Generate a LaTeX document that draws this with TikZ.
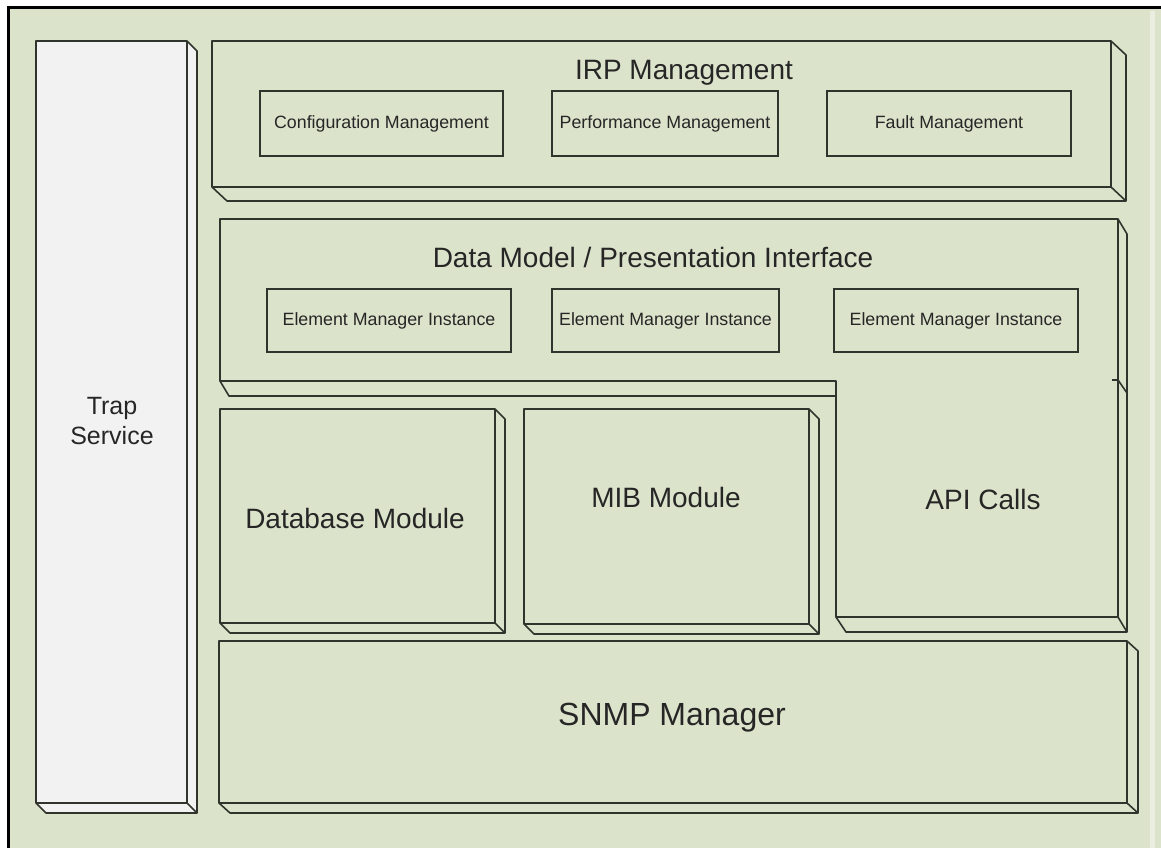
\documentclass[tikz,border=0pt]{standalone}
\usepackage{fontspec}
\setmainfont{Liberation Sans}
\definecolor{bg}{HTML}{DCE3CB}
\definecolor{trapfill}{HTML}{F2F2F2}
\definecolor{edgec}{HTML}{2F352C}
\definecolor{txt}{HTML}{262626}
\tikzset{
  edge/.style={draw=edgec, line width=1.6pt, line join=round},
  flatbox/.style={draw=edgec, line width=1.6pt, fill=bg},
  small/.style={text=txt, font=\fontsize{17.8}{20}\selectfont},
  title/.style={text=txt, font=\fontsize{28}{32}\selectfont},
  big/.style={text=txt, font=\fontsize{32}{36}\selectfont},
}
% 3D box: #1 x1, #2 y1, #3 x2, #4 y2, #5 dx, #6 dy, #7 fill
\newcommand{\tdbox}[7]{%
  \fill[#7] (#1,#2) -- (#3,#2) -- (#3+#5,#2+#6) -- (#3+#5,#4+#6) -- (#1+#5,#4+#6) -- (#1,#4) -- cycle;
  \draw[edge] (#3,#2) -- (#3+#5,#2+#6) -- (#3+#5,#4+#6) -- (#1+#5,#4+#6) -- (#1,#4);
  \draw[edge] (#3,#4) -- (#3+#5,#4+#6);
  \draw[edge, fill=#7] (#1,#2) rectangle (#3,#4);
}
\begin{document}
\begin{tikzpicture}[x=1pt,y=-1pt]
\useasboundingbox (0,0) rectangle (1161,848);
\fill[white] (0,0) rectangle (1161,848);
\fill[bg] (8,8) rectangle (1161,848);
\draw[line width=3pt, black] (8,848) -- (8,8) -- (1161,8);
\draw[line width=5pt, color=bg!60!white] (1152,11) -- (1152,848);

% Trap Service
\tdbox{36}{41}{187}{803}{10}{10}{trapfill}
\node[title, align=center, font=\fontsize{25}{30}\selectfont] (trap) at (112,421) {Trap\\Service};

% IRP Management
\tdbox{212}{41}{1111}{187}{15}{14}{bg}
\node[title] (irp) at (684,73) {IRP Management};
\node[flatbox, minimum width=243pt, minimum height=65pt] (cm) at (381.5,123.5) {};
\node[small] (cmt) at (cm) {Configuration Management};
\node[flatbox, minimum width=226pt, minimum height=65pt] (pm) at (665,123.5) {};
\node[small] (pmt) at (pm) {Performance Management};
\node[flatbox, minimum width=244pt, minimum height=65pt] (fm) at (949,123.5) {};
\node[small] (fmt) at (fm) {Fault Management};

% Data Model / Presentation Interface with API Calls (L-shaped block)
\fill[bg] (220,219) -- (1118,219) -- (1127,234) -- (1127,632) -- (846,632) -- (836,617) -- (836,396) -- (229,396) -- (220,381) -- cycle;
\draw[edge] (1118,219) -- (1127,234) -- (1127,632) -- (846,632) -- (836,617);
\draw[edge] (1118,617) -- (1127,632);
\draw[edge] (220,381) -- (229,396) -- (836,396);
\draw[edge] (1118,380) -- (1127,393);
\draw[edge, fill=bg] (220,219) -- (1118,219) -- (1118,617) -- (836,617) -- (836,381) -- (220,381) -- cycle;
\draw[edge] (1112,380) -- (1118,380);
\node[title] (dm) at (653,257) {Data Model / Presentation Interface};
\node[flatbox, minimum width=244pt, minimum height=63pt] (em1) at (389,320.5) {};
\node[small] (em1t) at (em1) {Element Manager Instance};
\node[flatbox, minimum width=227pt, minimum height=63pt] (em2) at (665.5,320.5) {};
\node[small] (em2t) at (em2) {Element Manager Instance};
\node[flatbox, minimum width=244pt, minimum height=63pt] (em3) at (956,320.5) {};
\node[small] (em3t) at (em3) {Element Manager Instance};
\node[title] (api) at (983,499) {API Calls};

% Database Module
\tdbox{220}{409}{495}{623}{10}{10}{bg}
\node[title] (db) at (355,518) {Database Module};

% MIB Module
\tdbox{524}{409}{809}{624}{10}{10}{bg}
\node[title] (mib) at (666,497) {MIB Module};

% SNMP Manager
\tdbox{219}{641}{1127}{803}{11}{10}{bg}
\node[big] (snmp) at (672,718) {SNMP Manager};
\end{tikzpicture}
\end{document}
